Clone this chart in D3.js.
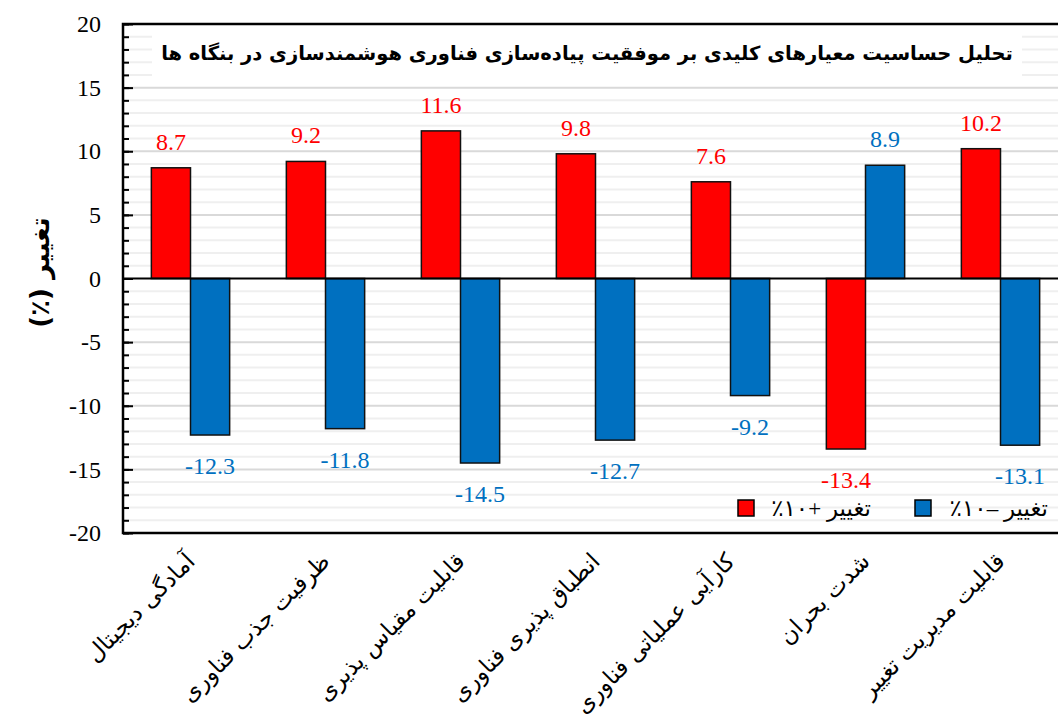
<!DOCTYPE html>
<html>
<head>
<meta charset="utf-8">
<script src="https://cdn.jsdelivr.net/npm/d3@7"></script>
<style>
  body { margin: 0; background: #fff; }
  svg { display: block; overflow: hidden; }
</style>
</head>
<body>
<div id="chart"></div>
<script>
(function(){
  const categories = [
    "آمادگی دیجیتال",
    "ظرفیت جذب فناوری",
    "قابلیت مقیاس پذیری",
    "انطباق پذیری فناوری",
    "کارآیی عملیاتی فناوری",
    "شدت بحران",
    "قابلیت مدیریت تغییر"
  ];
  const plus10 = [8.7, 9.2, 11.6, 9.8, 7.6, -13.4, 10.2];
  const minus10 = [-12.3, -11.8, -14.5, -12.7, -9.2, 8.9, -13.1];
  const seriesNames = ["تغییر +۱۰٪", "تغییر –۱۰٪"];
  const yTicks = [-20, -15, -10, -5, 0, 5, 10, 15, 20];
  const title = "تحلیل حساسیت معیارهای کلیدی بر موفقیت پیاده‌سازی فناوری هوشمندسازی در بنگاه ها";
  const yTitle = "تغییر (٪)";

  const W = 1058, H = 722;
  const left = 123, right = 1068, top = 24, bottom = 533;
  const colors = ["#ff0000", "#0070c0"];
  const numFont = "'Liberation Serif', 'Times New Roman', serif";
  const faFont = "'DejaVu Sans', sans-serif";

  const svg = d3.select("#chart").append("svg")
    .attr("width", W).attr("height", H);

  // scales
  const x = d3.scaleBand()
    .domain(categories)
    .range([left, right])
    .paddingInner(0.42)
    .paddingOuter(0.21);
  const xs = d3.scaleBand().domain([0, 1]).range([0, x.bandwidth()]);
  const y = d3.scaleLinear().domain([-20, 20]).range([bottom, top]);

  // gridlines every unit
  const gridVals = d3.range(-20, 21, 1);
  svg.append("g").selectAll("line")
    .data(gridVals.filter(v => v !== 0 && v !== 20 && v !== -20))
    .enter().append("line")
    .attr("x1", left).attr("x2", right)
    .attr("y1", d => y(d)).attr("y2", d => y(d))
    .attr("stroke", d => d % 5 === 0 ? "#d9d9d9" : "#efefef")
    .attr("stroke-width", 2);

  // title box (covers gridlines)
  svg.append("rect")
    .attr("x", 152).attr("y", 29)
    .attr("width", 870).attr("height", 51)
    .attr("fill", "#fff");
  svg.append("text")
    .attr("x", 587).attr("y", 60)
    .attr("text-anchor", "middle")
    .attr("direction", "rtl")
    .style("font-family", faFont)
    .style("font-size", "19.5px")
    .style("font-weight", "bold")
    .text(title);

  // bars
  const rows = categories.map((c, i) => ({ c, vals: [plus10[i], minus10[i]] }));
  const grp = svg.append("g").selectAll("g")
    .data(rows).enter().append("g")
    .attr("transform", d => `translate(${x(d.c)},0)`);

  grp.selectAll("rect")
    .data(d => d.vals.map((v, k) => ({ v, k })))
    .enter().append("rect")
    .attr("x", d => xs(d.k))
    .attr("width", xs.bandwidth())
    .attr("y", d => y(Math.max(0, d.v)))
    .attr("height", d => Math.abs(y(d.v) - y(0)))
    .attr("fill", d => colors[d.k])
    .attr("stroke", "#111")
    .attr("stroke-width", 1.5);

  grp.selectAll("text")
    .data(d => d.vals.map((v, k) => ({ v, k })))
    .enter().append("text")
    .attr("x", d => xs(d.k) + xs.bandwidth() / 2)
    .attr("y", d => d.v >= 0 ? y(d.v) - 18 : y(d.v) + 39)
    .attr("text-anchor", "middle")
    .attr("fill", d => colors[d.k])
    .style("font-family", numFont)
    .style("font-size", "24px")
    .text(d => d.v.toFixed(1));

  // zero line
  svg.append("line")
    .attr("x1", left).attr("x2", right)
    .attr("y1", y(0)).attr("y2", y(0))
    .attr("stroke", "#000").attr("stroke-width", 2);

  // frame
  svg.append("path")
    .attr("d", `M${right},${top}H${left}V${bottom}H${right}`)
    .attr("fill", "none")
    .attr("stroke", "#000")
    .attr("stroke-width", 2.5);

  // minor ticks
  svg.append("g")
    .attr("transform", `translate(${left},0)`)
    .call(d3.axisLeft(y).tickValues(gridVals).tickSize(-6).tickFormat(""))
    .call(g => g.select(".domain").remove())
    .call(g => g.selectAll("line").attr("stroke", "#000").attr("stroke-width", 2));

  // major ticks + labels
  svg.append("g")
    .attr("transform", `translate(${left},0)`)
    .call(d3.axisLeft(y).tickValues(yTicks).tickSize(-10).tickPadding(22).tickFormat(d => String(d)))
    .call(g => g.select(".domain").remove())
    .call(g => g.selectAll("line").attr("stroke", "#000").attr("stroke-width", 2))
    .call(g => g.selectAll("text")
      .attr("fill", "#000")
      .style("font-family", numFont)
      .style("font-size", "24px"));

  // x labels
  svg.append("g").selectAll("text")
    .data(categories).enter().append("text")
    .attr("transform", d => `translate(${x(d) + x.bandwidth() / 2},${bottom + 24}) rotate(-45)`)
    .attr("text-anchor", "end")
    .attr("dy", "0.35em")
    .style("font-family", faFont)
    .style("font-size", "23px")
    .text(d => d);

  // y title
  svg.append("text")
    .attr("transform", `translate(40,${y(0) - 6}) rotate(-90)`)
    .attr("text-anchor", "middle")
    .attr("dy", "0.35em")
    .attr("direction", "rtl")
    .style("font-family", faFont)
    .style("font-size", "26px")
    .style("font-weight", "bold")
    .text(yTitle);

  // legend
  const legendX = [738, 915];
  const lg = svg.append("g").selectAll("g")
    .data(seriesNames).enter().append("g")
    .attr("transform", (d, i) => `translate(${legendX[i]},500)`);
  lg.append("rect")
    .attr("width", 16).attr("height", 16)
    .attr("fill", (d, i) => colors[i])
    .attr("stroke", "#000").attr("stroke-width", 1.5);
  lg.append("text")
    .attr("x", 133).attr("y", 8)
    .attr("dy", "0.35em")
    .attr("direction", "rtl")
    .attr("text-anchor", "start")
    .style("font-family", "'Liberation Serif', 'DejaVu Sans', serif")
    .style("font-size", "23px")
    .text(d => d);
})();
</script>
</body>
</html>
